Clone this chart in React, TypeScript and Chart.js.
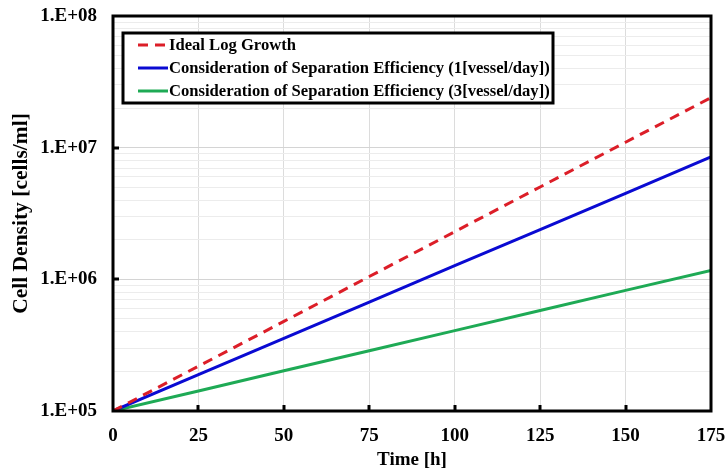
import React, { useEffect, useRef } from "react";
import { Chart, registerables } from "chart.js";

Chart.register(...registerables);

const times = [0, 25, 50, 75, 100, 125, 150, 175];
const idealGrowth = [1.0e5, 2.19e5, 4.79e5, 1.05e6, 2.3e6, 5.03e6, 1.1e7, 2.4e7];
const sepEff1 = [1.0e5, 1.89e5, 3.56e5, 6.71e5, 1.27e6, 2.39e6, 4.5e6, 8.5e6];
const sepEff3 = [1.0e5, 1.42e5, 2.02e5, 2.87e5, 4.08e5, 5.8e5, 8.24e5, 1.17e6];
const seriesLabels = [
  "Ideal Log Growth",
  "Consideration of Separation Efficiency (1[vessel/day])",
  "Consideration of Separation Efficiency (3[vessel/day])",
];
const yMajorTicks = [1e5, 1e6, 1e7, 1e8];
const yTickLabels = ["1.E+05", "1.E+06", "1.E+07", "1.E+08"];
const xTicks = [0, 25, 50, 75, 100, 125, 150, 175];

const FONT = "'Liberation Serif', 'Times New Roman', serif";

const framePlugin = {
  id: "frame",
  afterDatasetsDraw(chart: any) {
    const { ctx, chartArea: a, scales } = chart;
    const xs = scales.x;
    const ys = scales.y;
    ctx.save();
    ctx.strokeStyle = "#000";
    ctx.lineWidth = 3;
    ctx.strokeRect(a.left, a.top, a.right - a.left, a.bottom - a.top);
    ctx.lineWidth = 3;
    xTicks.slice(1, -1).forEach((t) => {
      const px = Math.round(xs.getPixelForValue(t));
      ctx.beginPath();
      ctx.moveTo(px, a.bottom);
      ctx.lineTo(px, a.bottom - 6);
      ctx.stroke();
    });
    yMajorTicks.slice(1, -1).forEach((v) => {
      const py = Math.round(ys.getPixelForValue(v));
      ctx.beginPath();
      ctx.moveTo(a.left, py);
      ctx.lineTo(a.left + 6, py);
      ctx.stroke();
    });
    // legend box
    const bx = 123, by = 33, bw = 430, bh = 70;
    ctx.fillStyle = "#fff";
    ctx.fillRect(bx, by, bw, bh);
    ctx.lineWidth = 3;
    ctx.strokeRect(bx, by, bw, bh);
    const rows = [45, 68, 91];
    ctx.font = `bold 16.6px ${FONT}`;
    ctx.textBaseline = "middle";
    ctx.textAlign = "left";
    chart.data.datasets.forEach((ds: any, i: number) => {
      ctx.strokeStyle = ds.borderColor;
      ctx.lineWidth = 3;
      ctx.setLineDash(ds.borderDash || []);
      ctx.beginPath();
      ctx.moveTo(138, rows[i]);
      ctx.lineTo(168, rows[i]);
      ctx.stroke();
      ctx.setLineDash([]);
      ctx.fillStyle = "#000";
      ctx.fillText(ds.label, 169, rows[i] + 1);
    });
    ctx.restore();
  },
};

export default function App() {
  const ref = useRef<HTMLCanvasElement>(null);
  useEffect(() => {
    document.body.style.margin = "0";
    const mk = (vals: number[]) => times.map((t, i) => ({ x: t, y: vals[i] }));
    const chart = new Chart(ref.current!, {
      type: "line",
      data: {
        datasets: [
          {
            label: seriesLabels[0],
            data: mk(idealGrowth),
            borderColor: "#dc1e28",
            borderWidth: 3,
            borderDash: [10, 7],
            pointRadius: 0,
            fill: false,
          },
          {
            label: seriesLabels[1],
            data: mk(sepEff1),
            borderColor: "#0a0ad2",
            borderWidth: 3,
            pointRadius: 0,
            fill: false,
          },
          {
            label: seriesLabels[2],
            data: mk(sepEff3),
            borderColor: "#1eaa55",
            borderWidth: 3,
            pointRadius: 0,
            fill: false,
          },
        ],
      },
      options: {
        animation: false,
        responsive: false,
        layout: { padding: { left: 0, right: 15, top: 16, bottom: 0 } },
        plugins: { legend: { display: false }, tooltip: { enabled: false } },
        scales: {
          x: {
            type: "linear",
            min: 0,
            max: 175,
            afterFit: (s: any) => {
              s.height = 60;
              s.paddingLeft = 0;
              s.paddingRight = 0;
            },
            afterBuildTicks: (s: any) => {
              s.ticks = xTicks.map((v) => ({ value: v }));
            },
            ticks: {
              color: "#000",
              font: { family: FONT, size: 19, weight: "bold" },
              padding: 14,
              maxRotation: 0,
            },
            grid: {
              drawTicks: false,
              color: "#dcdcdc",
              lineWidth: 1,
            },
            border: { display: false },
            title: {
              display: true,
              text: "Time [h]",
              color: "#000",
              font: { family: FONT, size: 19, weight: "bold" },
              padding: { top: 0, bottom: 0 },
            },
          },
          y: {
            type: "logarithmic",
            min: 1e5,
            max: 1e8,
            afterFit: (s: any) => {
              s.width = 113;
              s.paddingTop = 0;
              s.paddingBottom = 0;
            },
            afterBuildTicks: (s: any) => {
              const arr: any[] = [];
              for (let e = 5; e <= 8; e++) {
                for (let m = 1; m <= 9; m++) {
                  const v = m * Math.pow(10, e);
                  if (v > 1e8) break;
                  arr.push({ value: v, major: m === 1 });
                }
              }
              s.ticks = arr;
            },
            ticks: {
              color: "#000",
              font: { family: FONT, size: 19, weight: "bold" },
              padding: 16,
              autoSkip: false,
              callback: (v: any) => {
                const idx = yMajorTicks.findIndex((m) => Math.abs(m - Number(v)) < 1e-6 * m);
                return idx >= 0 ? yTickLabels[idx] : "";
              },
            },
            grid: {
              drawTicks: false,
              color: (c: any) => {
                const v = c.tick ? c.tick.value : 0;
                const lg = Math.log10(v);
                return Math.abs(lg - Math.round(lg)) < 1e-9 ? "#d4d4d4" : "#ececec";
              },
              lineWidth: 1,
            },
            border: { display: false },
            title: {
              display: true,
              text: "Cell Density [cells/ml]",
              color: "#000",
              font: { family: FONT, size: 21.5, weight: "bold" },
              padding: { top: 9, bottom: 0 },
            },
          },
        },
      },
      plugins: [framePlugin],
    } as any);
    return () => chart.destroy();
  }, []);
  return (
    <div style={{ width: 726, height: 471 }}>
      <canvas ref={ref} width={726} height={471} style={{ display: "block" }} />
    </div>
  );
}
